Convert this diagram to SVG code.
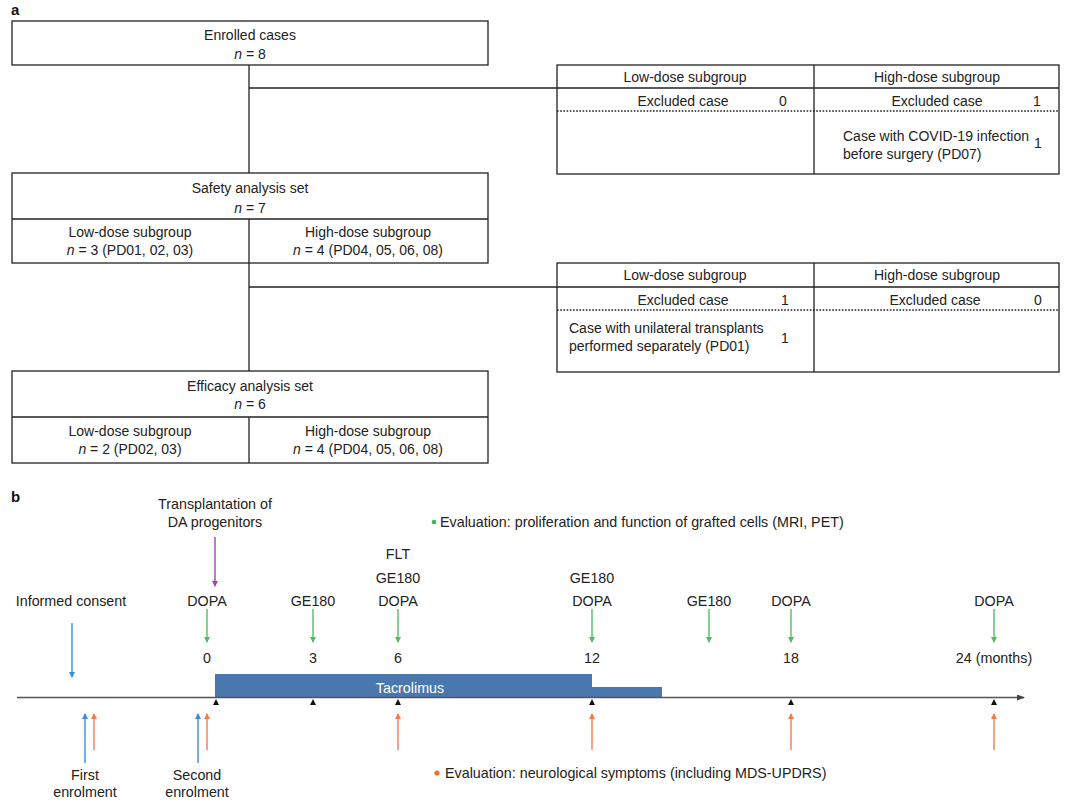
<svg xmlns="http://www.w3.org/2000/svg" width="1080" height="808" viewBox="0 0 1080 808">
<style>
text{font-family:"Liberation Sans",Arial,sans-serif;font-size:14px;fill:#222}
.t{font-size:14.3px}
.c{text-anchor:middle}
.lbl{font-weight:bold;font-size:15px;fill:#111}
.box{fill:none;stroke:#222;stroke-width:1.3}
.ln{stroke:#222;stroke-width:1.3;fill:none}
.dot{stroke:#222;stroke-width:1.4;stroke-dasharray:1.6,1.6;fill:none}
.i{font-style:italic}
.g{stroke:#52bd62;stroke-width:1.4}
.b{stroke:#3a8fd6;stroke-width:1.4}
.o{stroke:#f47c4c;stroke-width:1.4}
.p{stroke:#9b4aa6;stroke-width:1.4}
.tick{fill:#111}
</style>
<defs>
<marker id="mg" markerWidth="6" markerHeight="6" refX="5" refY="3" orient="auto" markerUnits="userSpaceOnUse"><path d="M0,0 L6,3 L0,6 Z" fill="#52bd62"/></marker>
<marker id="mb" markerWidth="6" markerHeight="6" refX="5" refY="3" orient="auto" markerUnits="userSpaceOnUse"><path d="M0,0 L6,3 L0,6 Z" fill="#3a8fd6"/></marker>
<marker id="mo" markerWidth="6" markerHeight="6" refX="5" refY="3" orient="auto" markerUnits="userSpaceOnUse"><path d="M0,0 L6,3 L0,6 Z" fill="#f47c4c"/></marker>
<marker id="mp" markerWidth="6" markerHeight="6" refX="5" refY="3" orient="auto" markerUnits="userSpaceOnUse"><path d="M0,0 L6,3 L0,6 Z" fill="#9b4aa6"/></marker>
<marker id="mk" markerWidth="8" markerHeight="6" refX="7" refY="3" orient="auto" markerUnits="userSpaceOnUse"><path d="M0,0 L8,3 L0,6 Z" fill="#444"/></marker>
</defs>

<text class="lbl" x="11" y="15">a</text>
<text class="lbl" x="11" y="502">b</text>

<g id="connectors-a">
<line class="ln" x1="249" y1="65" x2="249" y2="173"/>
<line class="ln" x1="249" y1="88" x2="557" y2="88"/>
<line class="ln" x1="249" y1="263" x2="249" y2="371"/>
<line class="ln" x1="249" y1="287" x2="557" y2="287"/>
</g>

<g id="enrolled">
<rect class="box" x="12" y="21" width="476" height="44"/>
<text class="c" x="250" y="40">Enrolled cases</text>
<text class="c" x="250" y="59"><tspan class="i">n</tspan> = 8</text>
</g>

<g id="safety">
<rect class="box" x="12" y="173" width="476" height="90"/>
<line class="ln" x1="12" y1="219" x2="488" y2="219"/>
<line class="ln" x1="249" y1="219" x2="249" y2="263"/>
<text class="c" x="250" y="193">Safety analysis set</text>
<text class="c" x="250" y="213"><tspan class="i">n</tspan> = 7</text>
<text class="c" x="130" y="237">Low-dose subgroup</text>
<text class="c" x="130" y="255"><tspan class="i">n</tspan> = 3 (PD01, 02, 03)</text>
<text class="c" x="368" y="237">High-dose subgroup</text>
<text class="c" x="368" y="255"><tspan class="i">n</tspan> = 4 (PD04, 05, 06, 08)</text>
</g>

<g id="efficacy">
<rect class="box" x="12" y="371" width="476" height="92"/>
<line class="ln" x1="12" y1="417" x2="488" y2="417"/>
<line class="ln" x1="249" y1="417" x2="249" y2="463"/>
<text class="c" x="250" y="391">Efficacy analysis set</text>
<text class="c" x="250" y="409"><tspan class="i">n</tspan> = 6</text>
<text class="c" x="130" y="436">Low-dose subgroup</text>
<text class="c" x="130" y="454"><tspan class="i">n</tspan> = 2 (PD02, 03)</text>
<text class="c" x="368" y="436">High-dose subgroup</text>
<text class="c" x="368" y="454"><tspan class="i">n</tspan> = 4 (PD04, 05, 06, 08)</text>
</g>

<g id="excluded1">
<rect class="box" x="557" y="65" width="502" height="109"/>
<line class="ln" x1="557" y1="88" x2="1059" y2="88"/>
<line class="ln" x1="814" y1="65" x2="814" y2="174"/>
<line class="dot" x1="557" y1="111" x2="1059" y2="111"/>
<text class="c" x="685" y="82">Low-dose subgroup</text>
<text class="c" x="937" y="82">High-dose subgroup</text>
<text class="c" x="683" y="106">Excluded case</text>
<text class="c" x="783" y="106">0</text>
<text class="c" x="937" y="106">Excluded case</text>
<text class="c" x="1037" y="106">1</text>
<text x="843" y="141">Case with COVID-19 infection</text>
<text x="843" y="159">before surgery (PD07)</text>
<text class="c" x="1038" y="148">1</text>
</g>

<g id="excluded2">
<rect class="box" x="557" y="263" width="502" height="109"/>
<line class="ln" x1="557" y1="287" x2="1059" y2="287"/>
<line class="ln" x1="814" y1="263" x2="814" y2="372"/>
<line class="dot" x1="557" y1="310" x2="1059" y2="310"/>
<text class="c" x="685" y="280">Low-dose subgroup</text>
<text class="c" x="937" y="280">High-dose subgroup</text>
<text class="c" x="683" y="305">Excluded case</text>
<text class="c" x="785" y="305">1</text>
<text class="c" x="935" y="305">Excluded case</text>
<text class="c" x="1038" y="305">0</text>
<text x="569" y="333">Case with unilateral transplants</text>
<text x="569" y="351">performed separately (PD01)</text>
<text class="c" x="785" y="343">1</text>
</g>

<g id="tacrolimus">
<path d="M215,674 H592 V687 H662 V697 H215 Z" fill="#4a78ae"/>
<text class="c t" x="410" y="693" style="fill:#fff">Tacrolimus</text>
</g>

<g id="axis">
<line x1="17" y1="697.5" x2="1024" y2="697.5" stroke="#555" stroke-width="1.5" marker-end="url(#mk)"/>
<path class="tick" d="M216,699 L219,705 L213,705 Z"/>
<path class="tick" d="M313,699 L316,705 L310,705 Z"/>
<path class="tick" d="M398,699 L401,705 L395,705 Z"/>
<path class="tick" d="M592,699 L595,705 L589,705 Z"/>
<path class="tick" d="M791,699 L794,705 L788,705 Z"/>
<path class="tick" d="M994,699 L997,705 L991,705 Z"/>
</g>

<g id="labels-top">
<text class="c t" x="215" y="509">Transplantation of</text>
<text class="c t" x="215" y="527">DA progenitors</text>
<circle cx="434" cy="522" r="2.3" fill="#3cb94e"/>
<text class="t" x="440" y="527">Evaluation: proliferation and function of grafted cells (MRI, PET)</text>
<text class="c t" x="71" y="606">Informed consent</text>
<text class="c t" x="207" y="606">DOPA</text>
<text class="c t" x="313" y="606">GE180</text>
<text class="c t" x="398" y="559">FLT</text>
<text class="c t" x="398" y="583">GE180</text>
<text class="c t" x="398" y="606">DOPA</text>
<text class="c t" x="592" y="583">GE180</text>
<text class="c t" x="592" y="606">DOPA</text>
<text class="c t" x="709" y="606">GE180</text>
<text class="c t" x="791" y="606">DOPA</text>
<text class="c t" x="994" y="606">DOPA</text>
<text class="c t" x="207" y="663">0</text>
<text class="c t" x="313" y="663">3</text>
<text class="c t" x="398" y="663">6</text>
<text class="c t" x="592" y="663">12</text>
<text class="c t" x="791" y="663">18</text>
<text class="c t" x="994" y="663">24 (months)</text>
</g>

<g id="arrows">
<line class="p" x1="215" y1="537" x2="215" y2="586" marker-end="url(#mp)"/>
<line class="b" x1="72" y1="623" x2="72" y2="677" marker-end="url(#mb)"/>
<line class="g" x1="207" y1="609" x2="207" y2="642" marker-end="url(#mg)"/>
<line class="g" x1="313" y1="609" x2="313" y2="642" marker-end="url(#mg)"/>
<line class="g" x1="398" y1="609" x2="398" y2="642" marker-end="url(#mg)"/>
<line class="g" x1="592" y1="609" x2="592" y2="642" marker-end="url(#mg)"/>
<line class="g" x1="709" y1="609" x2="709" y2="642" marker-end="url(#mg)"/>
<line class="g" x1="791" y1="609" x2="791" y2="642" marker-end="url(#mg)"/>
<line class="g" x1="994" y1="609" x2="994" y2="642" marker-end="url(#mg)"/>
<line class="b" x1="85" y1="763" x2="85" y2="714" marker-end="url(#mb)"/>
<line class="o" x1="94" y1="750" x2="94" y2="714" marker-end="url(#mo)"/>
<line class="b" x1="198" y1="763" x2="198" y2="714" marker-end="url(#mb)"/>
<line class="o" x1="207" y1="750" x2="207" y2="714" marker-end="url(#mo)"/>
<line class="o" x1="398" y1="750" x2="398" y2="714" marker-end="url(#mo)"/>
<line class="o" x1="592" y1="750" x2="592" y2="714" marker-end="url(#mo)"/>
<line class="o" x1="791" y1="750" x2="791" y2="714" marker-end="url(#mo)"/>
<line class="o" x1="994" y1="750" x2="994" y2="714" marker-end="url(#mo)"/>
</g>

<g id="labels-bottom">
<text class="c t" x="85" y="780">First</text>
<text class="c t" x="85" y="797">enrolment</text>
<text class="c t" x="197" y="780">Second</text>
<text class="c t" x="197" y="797">enrolment</text>
<circle cx="437" cy="773" r="2.6" fill="#f07030"/>
<text class="t" x="445" y="778">Evaluation: neurological symptoms (including MDS-UPDRS)</text>
</g>
</svg>
